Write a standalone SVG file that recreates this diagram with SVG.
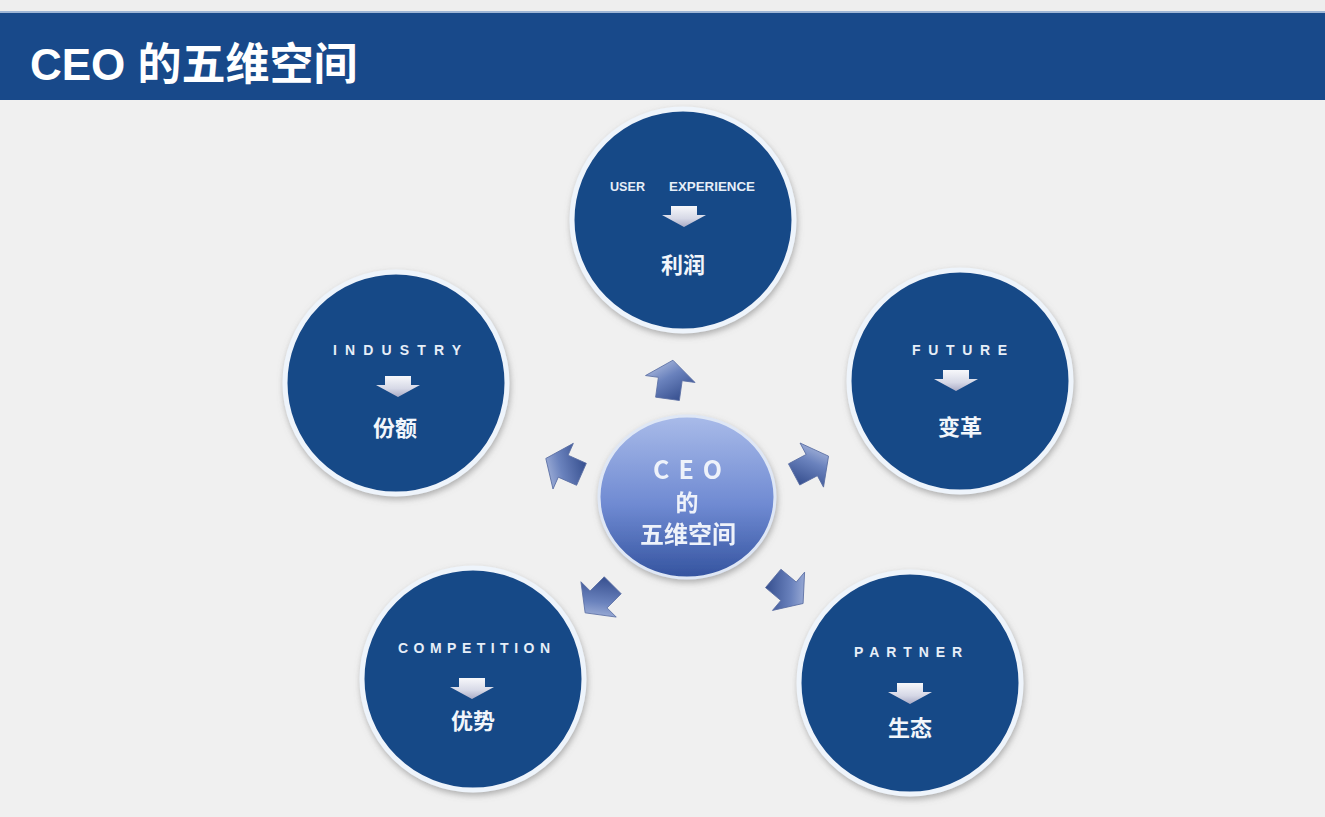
<svg xmlns="http://www.w3.org/2000/svg" width="1325" height="817" viewBox="0 0 1325 817">
<defs>
<style>
.node{fill:#194987;stroke:#eef4fb;stroke-width:5}
.en{font-family:"Liberation Sans","DejaVu Sans",sans-serif;font-weight:bold;fill:#e6eef8;font-size:14px}
.enc{font-family:"Liberation Sans Narrow","Liberation Sans",sans-serif;font-weight:bold;fill:#e6eef8;font-size:13px}
.cn{font-family:"Noto Sans CJK SC","Noto Sans CJK TC",sans-serif;font-weight:bold;fill:#f2f6fb;font-size:22px}
.ctr{font-family:"Noto Sans CJK SC","Liberation Sans",sans-serif;font-weight:bold;fill:#eef2fa}
</style>
<filter id="sh" x="-20%" y="-20%" width="140%" height="140%">
<feDropShadow dx="1" dy="3" stdDeviation="3" flood-color="#777" flood-opacity="0.55"/>
</filter>
<linearGradient id="cg" x1="0" y1="0" x2="0" y2="1">
<stop offset="0" stop-color="#a9bbe9"/>
<stop offset="0.55" stop-color="#6f8ad2"/>
<stop offset="1" stop-color="#34539f"/>
</linearGradient>
<linearGradient id="ag" x1="0" y1="0" x2="1" y2="1">
<stop offset="0" stop-color="#c8d2ec"/>
<stop offset="0.45" stop-color="#6a82bd"/>
<stop offset="1" stop-color="#263f80"/>
</linearGradient>
<linearGradient id="sg" x1="0" y1="0" x2="0" y2="1">
<stop offset="0" stop-color="#f7f8fb"/>
<stop offset="0.6" stop-color="#d6d8e6"/>
<stop offset="1" stop-color="#a9abc6"/>
</linearGradient>
<path id="big" d="M0,-21 L25,-2 L12,-2 L12,18 L-12,18 L-12,-2 L-25,-2 Z" fill="url(#ag)" stroke="#5a6ea3" stroke-width="0.8"/>
<path id="small" d="M-13,-10 L13,-10 L13,-1 L22,-1 L0,11 L-22,-1 L-13,-1 Z" fill="url(#sg)"/>
</defs>
<rect width="1325" height="817" fill="#f0f0f0"/>
<rect y="0" width="1325" height="12" fill="#eeeeee"/>
<g id="header">
<rect x="0" y="11" width="1325" height="89" fill="#18498a"/>
<rect x="0" y="11" width="1325" height="2" fill="#9fb6d6"/>
<text x="30" y="80" font-family="Liberation Sans,'Noto Sans CJK SC',sans-serif" font-size="44" font-weight="bold" fill="#ffffff">CEO 的五维空间</text>
</g>
<g id="connectors">
<use href="#big" transform="translate(670,381) rotate(8)"/>
<use href="#big" transform="translate(810,466) rotate(62)"/>
<use href="#big" transform="translate(565,467) rotate(-66)"/>
<use href="#big" transform="translate(600,598) rotate(-135)"/>
<use href="#big" transform="translate(787,590) rotate(130)"/>
</g>
<g id="center" filter="url(#sh)">
<ellipse cx="687" cy="497" rx="88" ry="81" fill="url(#cg)" stroke="#dfe7f5" stroke-width="3"/>
<text class="ctr" x="692" y="479" font-size="25" text-anchor="middle" letter-spacing="9">CEO</text>
<text class="ctr" x="687" y="511" font-size="23" text-anchor="middle">的</text>
<text class="ctr" x="688" y="543" font-size="24" text-anchor="middle">五维空间</text>
</g>
<g id="node-profit">
<circle class="node" cx="683" cy="220" r="111" filter="url(#sh)"/>
<text class="enc" x="610" y="191" textLength="35" lengthAdjust="spacingAndGlyphs">USER</text>
<text class="enc" x="669" y="191" textLength="86" lengthAdjust="spacingAndGlyphs">EXPERIENCE</text>
<use href="#small" x="684" y="216"/>
<text class="cn" x="683" y="273" text-anchor="middle">利润</text>
</g>
<g id="node-industry">
<circle class="node" cx="396" cy="383" r="111" filter="url(#sh)"/>
<text class="en" x="333" y="355" textLength="128" lengthAdjust="spacing">INDUSTRY</text>
<use href="#small" x="398" y="386"/>
<text class="cn" x="395" y="436" text-anchor="middle">份额</text>
</g>
<g id="node-future">
<circle class="node" cx="960" cy="381" r="111" filter="url(#sh)"/>
<text class="en" x="912" y="355" textLength="95" lengthAdjust="spacing">FUTURE</text>
<use href="#small" x="956" y="380"/>
<text class="cn" x="960" y="435" text-anchor="middle">变革</text>
</g>
<g id="node-competition">
<circle class="node" cx="473" cy="679" r="111" filter="url(#sh)"/>
<text class="en" x="398" y="653" textLength="152" lengthAdjust="spacing">COMPETITION</text>
<use href="#small" x="472" y="688"/>
<text class="cn" x="473" y="729" text-anchor="middle">优势</text>
</g>
<g id="node-partner">
<circle class="node" cx="910" cy="683" r="111" filter="url(#sh)"/>
<text class="en" x="854" y="657" textLength="108" lengthAdjust="spacing">PARTNER</text>
<use href="#small" x="910" y="693"/>
<text class="cn" x="910" y="736" text-anchor="middle">生态</text>
</g>
</svg>
